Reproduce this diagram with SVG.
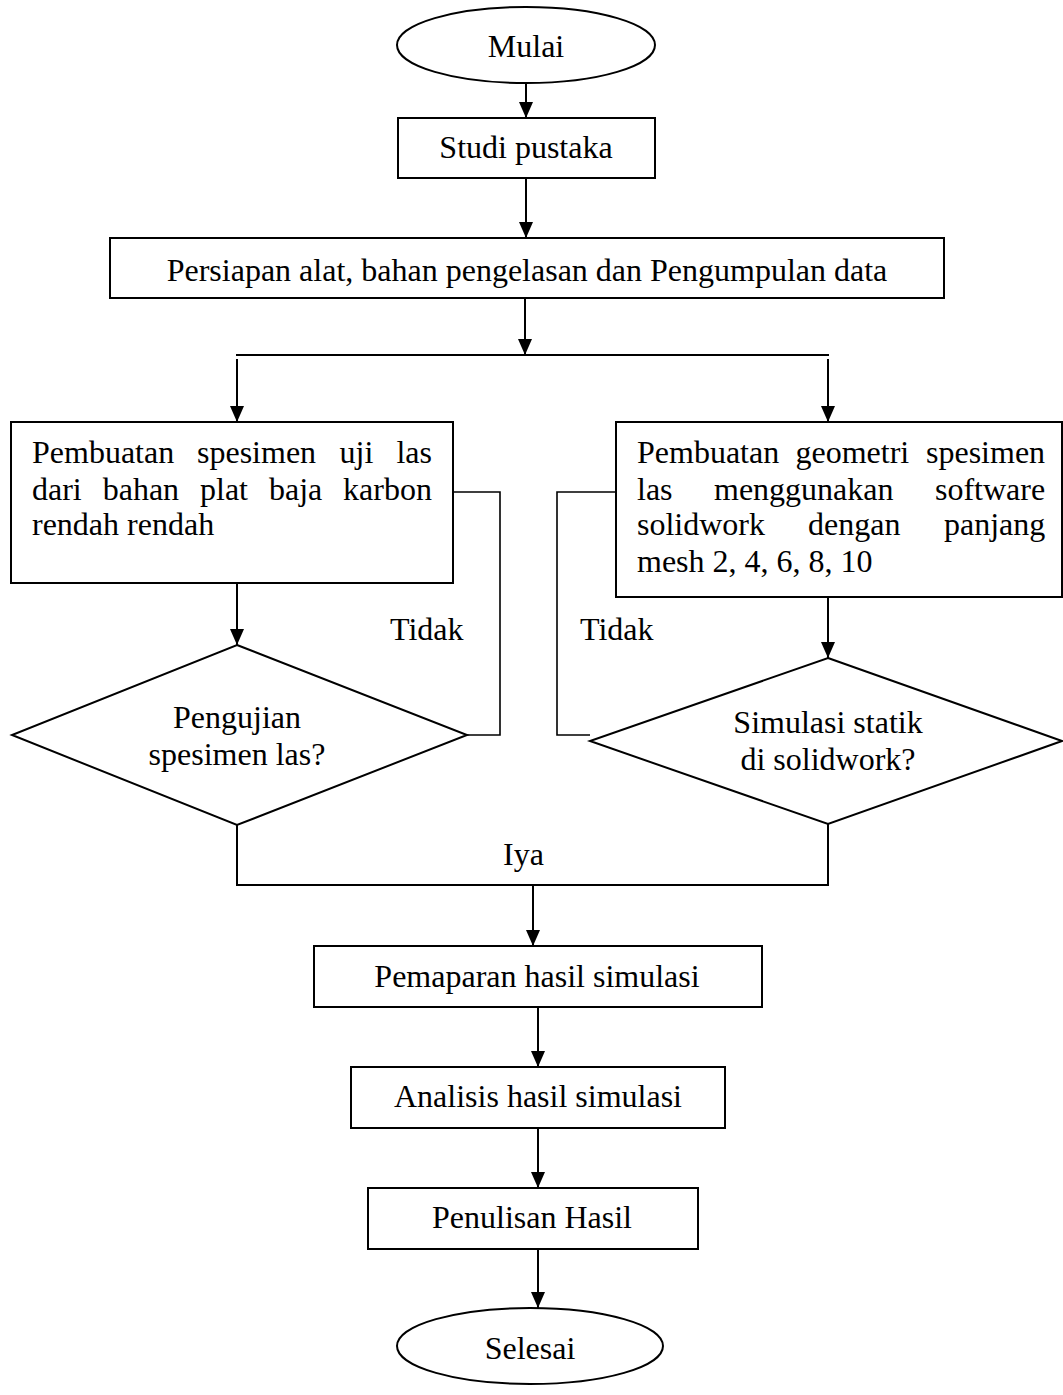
<svg xmlns="http://www.w3.org/2000/svg" width="1063" height="1395" viewBox="0 0 1063 1395">
<style>
.s{fill:#fff;stroke:#000;stroke-width:2}
.t{font-family:"Liberation Serif","Times New Roman",serif;font-size:32px;fill:#000}
.m{text-anchor:middle}
.e{text-anchor:end}
.c{fill:none;stroke:#000;stroke-width:2}
.l{fill:none;stroke:#000;stroke-width:1.6}
</style>
<defs>
<marker id="ah" markerUnits="userSpaceOnUse" viewBox="0 0 16 14" markerWidth="16" markerHeight="14" refX="16" refY="7" orient="auto">
<path d="M0,0 L16,7 L0,14 z" fill="#000"/>
</marker>
</defs>
<rect width="1063" height="1395" fill="#fff"/>
<g id="connectors">
<line class="c" x1="526" y1="83" x2="526" y2="118" marker-end="url(#ah)"/>
<line class="c" x1="526" y1="178" x2="526" y2="238" marker-end="url(#ah)"/>
<line class="c" x1="525" y1="298" x2="525" y2="355" marker-end="url(#ah)"/>
<line class="c" x1="236" y1="355" x2="829" y2="355"/>
<line class="c" x1="237" y1="359" x2="237" y2="422" marker-end="url(#ah)"/>
<line class="c" x1="828" y1="359" x2="828" y2="422" marker-end="url(#ah)"/>
<line class="c" x1="237" y1="583" x2="237" y2="645" marker-end="url(#ah)"/>
<line class="c" x1="828" y1="597" x2="828" y2="658" marker-end="url(#ah)"/>
<polyline class="l" points="453,492 500,492 500,735 467,735"/>
<polyline class="l" points="616,492 557,492 557,735 590,735"/>
<polyline class="c" points="237,825 237,885 828,885 828,824"/>
<line class="c" x1="533" y1="885" x2="533" y2="946" marker-end="url(#ah)"/>
<line class="c" x1="538" y1="1007" x2="538" y2="1067" marker-end="url(#ah)"/>
<line class="c" x1="538" y1="1128" x2="538" y2="1188" marker-end="url(#ah)"/>
<line class="c" x1="538" y1="1249" x2="538" y2="1308" marker-end="url(#ah)"/>
<text class="t" x="390" y="640">Tidak</text>
<text class="t" x="580" y="640">Tidak</text>
<text class="t" x="503" y="865">Iya</text>
</g>
<g id="mulai">
<ellipse class="s" cx="526" cy="45" rx="129" ry="38"/>
<text class="t m" x="526" y="57">Mulai</text>
</g>
<g id="studi">
<rect class="s" x="398" y="118" width="257" height="60"/>
<text class="t m" x="526" y="158">Studi pustaka</text>
</g>
<g id="persiapan">
<rect class="s" x="110" y="238" width="834" height="60"/>
<text class="t m" x="527" y="281">Persiapan alat, bahan pengelasan dan Pengumpulan data</text>
</g>
<g id="pembuatan-spesimen">
<rect class="s" x="11" y="422" width="442" height="161"/>
<text class="t" y="463"><tspan x="32">Pembuatan</tspan><tspan x="197">spesimen</tspan><tspan x="339.5">uji</tspan><tspan x="396.4">las</tspan></text>
<text class="t" y="500"><tspan x="32">dari</tspan><tspan x="102.7">bahan</tspan><tspan x="200">plat</tspan><tspan x="269">baja</tspan><tspan x="343.1">karbon</tspan></text>
<text class="t" x="32" y="535">rendah rendah</text>
</g>
<g id="pembuatan-geometri">
<rect class="s" x="616" y="422" width="446" height="175"/>
<text class="t" y="463"><tspan x="637">Pembuatan</tspan><tspan x="795.5">geometri</tspan><tspan x="926">spesimen</tspan></text>
<text class="t" y="500"><tspan x="637">las</tspan><tspan x="714">menggunakan</tspan><tspan x="935">software</tspan></text>
<text class="t" y="535"><tspan x="637">solidwork</tspan><tspan x="808">dengan</tspan><tspan x="944">panjang</tspan></text>
<text class="t" x="637" y="572">mesh 2, 4, 6, 8, 10</text>
</g>
<g id="pengujian">
<polygon class="s" points="237,645 467,735 237,825 12,735"/>
<text class="t m" x="237" y="728">Pengujian</text>
<text class="t m" x="237" y="765">spesimen las?</text>
</g>
<g id="simulasi">
<polygon class="s" points="828,658 1062,741 828,824 590,741"/>
<text class="t m" x="828" y="733">Simulasi statik</text>
<text class="t m" x="828" y="770">di solidwork?</text>
</g>
<g id="pemaparan">
<rect class="s" x="314" y="946" width="448" height="61"/>
<text class="t m" x="537" y="987">Pemaparan hasil simulasi</text>
</g>
<g id="analisis">
<rect class="s" x="351" y="1067" width="374" height="61"/>
<text class="t m" x="538" y="1107">Analisis hasil simulasi</text>
</g>
<g id="penulisan">
<rect class="s" x="368" y="1188" width="330" height="61"/>
<text class="t m" x="532" y="1228">Penulisan Hasil</text>
</g>
<g id="selesai">
<ellipse class="s" cx="530" cy="1346" rx="133" ry="38"/>
<text class="t m" x="530" y="1359">Selesai</text>
</g>
</svg>
